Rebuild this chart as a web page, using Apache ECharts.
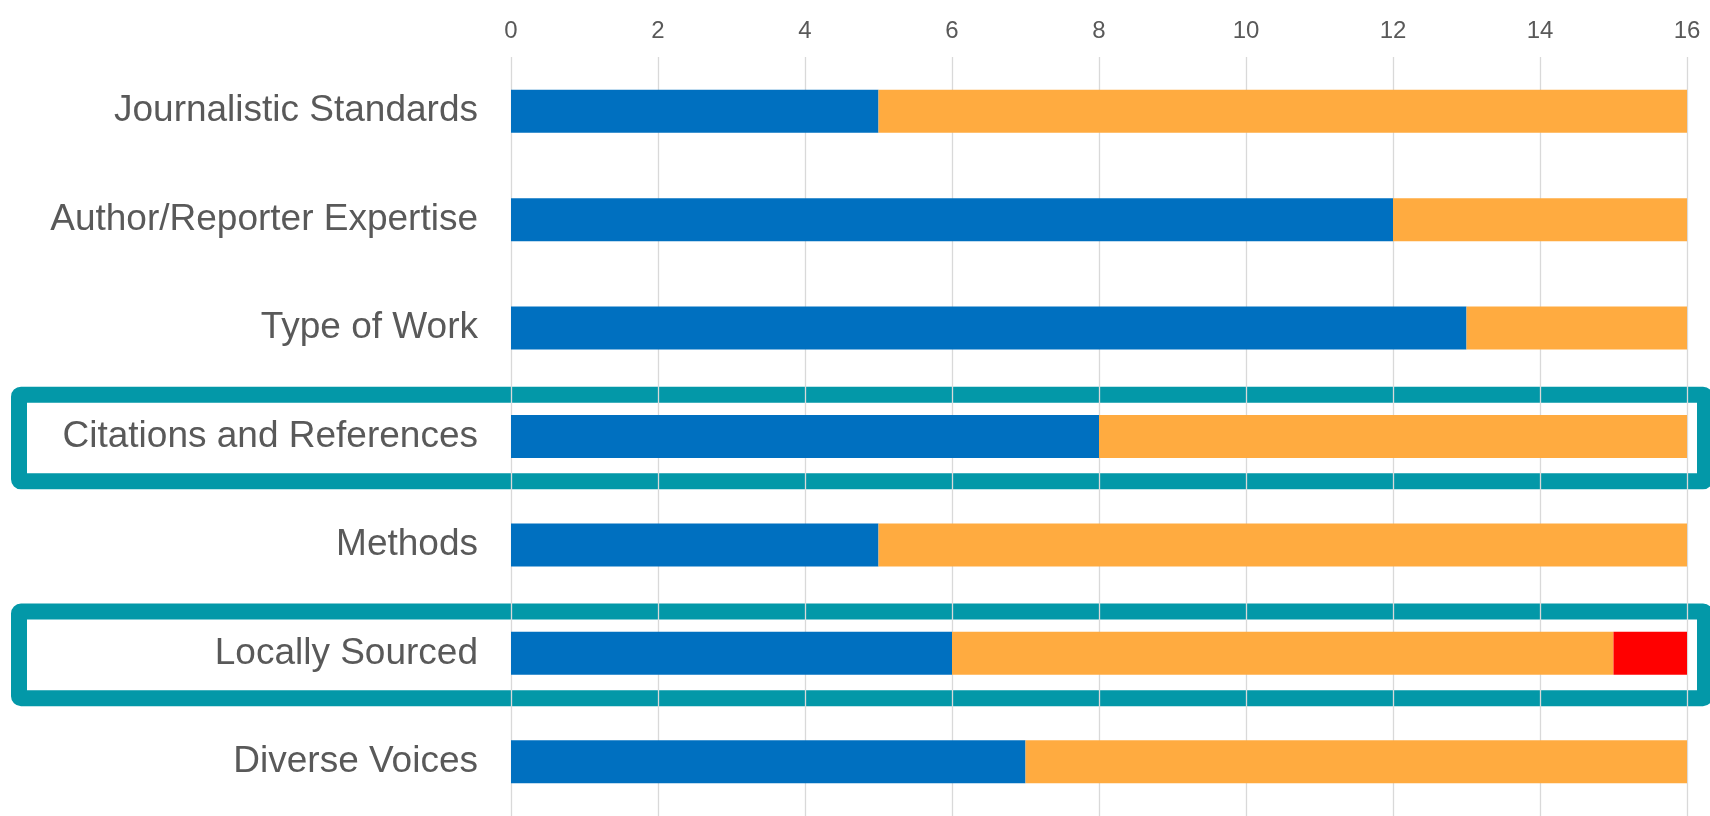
<!DOCTYPE html>
<html>
<head>
<meta charset="utf-8">
<script src="https://cdn.jsdelivr.net/npm/echarts@6/dist/echarts.min.js"></script>
<style>
html,body{margin:0;padding:0;background:#fff;}
#chart{width:1710px;height:816px;}
</style>
</head>
<body>
<div id="chart"></div>
<script>
const categories = ['Journalistic Standards','Author/Reporter Expertise','Type of Work','Citations and References','Methods','Locally Sourced','Diverse Voices'];
const blueValues = [5, 12, 13, 8, 5, 6, 7];
const orangeValues = [11, 4, 3, 8, 11, 9, 9];
const redValues = [0, 0, 0, 0, 0, 1, 0];
const highlighted = ['Citations and References', 'Locally Sourced'];

const chart = echarts.init(document.getElementById('chart'));
const font = '"Liberation Sans", Arial, sans-serif';
chart.setOption({
  animation: false,
  backgroundColor: '#ffffff',
  grid: { left: 511, right: 23, top: 57, height: 760, containLabel: false },
  xAxis: {
    type: 'value', position: 'top', min: 0, max: 16, interval: 2,
    axisLine: { show: false }, axisTick: { show: false },
    axisLabel: { fontSize: 24, color: '#595959', fontFamily: font, margin: 14 },
    splitLine: { show: true, lineStyle: { color: '#d9d9d9', width: 1.3 } }
  },
  yAxis: {
    type: 'category', data: categories, inverse: true,
    axisLine: { show: false }, axisTick: { show: false },
    axisLabel: { fontSize: 37, color: '#595959', fontFamily: font, margin: 33 },
    splitLine: { show: false }
  },
  series: [
    { type: 'bar', stack: 'a', data: blueValues, barWidth: 43, itemStyle: { color: '#0070C0' }, z: 3 },
    { type: 'bar', stack: 'a', data: orangeValues, barWidth: 43, itemStyle: { color: '#FFAB40' }, z: 3 },
    { type: 'bar', stack: 'a', data: redValues, barWidth: 43, itemStyle: { color: '#FF0000' }, z: 3 }
  ]
});

const y0 = chart.convertToPixel({ yAxisIndex: 0 }, categories[0]);
const y1 = chart.convertToPixel({ yAxisIndex: 0 }, categories[1]);
const band = Math.abs(y1 - y0);
const halfBox = band * 0.4;
const graphics = highlighted.map(function (name) {
  const cy = chart.convertToPixel({ yAxisIndex: 0 }, name) + 1.5;
  return {
    type: 'rect', z: -10, silent: true,
    shape: { x: 19, y: cy - halfBox, width: 1686, height: halfBox * 2, r: 2 },
    style: { fill: 'none', stroke: '#0398A8', lineWidth: 16, lineJoin: 'round' }
  };
});
chart.setOption({ graphic: { elements: graphics } });
</script>
</body>
</html>
